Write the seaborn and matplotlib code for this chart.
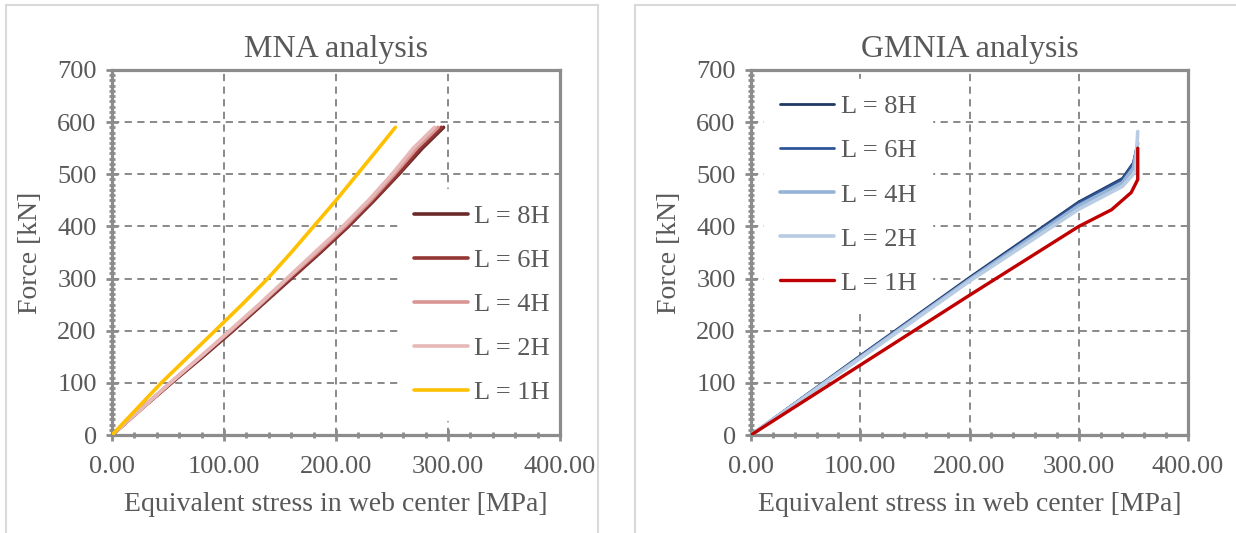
import numpy as np
import pandas as pd
import seaborn as sns
import matplotlib.pyplot as plt
from matplotlib.patches import Rectangle
from matplotlib.ticker import MultipleLocator, FuncFormatter

# Données (contrainte équivalente [MPa], force [kN])
labels = ['L = 8H', 'L = 6H', 'L = 4H', 'L = 2H', 'L = 1H']

mna_force = [0, 50, 100, 150, 200, 250, 300, 350, 400, 450, 500, 550, 590]
mna_x = {
    'L = 8H': [0, 26, 53, 81, 108, 134, 160, 186, 211, 234, 256, 277, 296],
    'L = 6H': [0, 26, 53, 80, 107, 133, 159, 185, 210, 233, 255, 275, 294],
    'L = 4H': [0, 26, 52, 79, 106, 132, 157, 183, 208, 231, 252, 272, 291],
    'L = 2H': [0, 26, 52, 79, 105, 131, 156, 181, 206, 229, 250, 269, 288],
    'L = 1H': [0, 22, 44, 68, 92, 116, 139, 160, 180, 200, 219, 238, 253],
}
mna_y = {lab: mna_force for lab in labels}

gmnia_x = {
    'L = 8H': [0, 100, 200, 300, 340, 350, 353],
    'L = 6H': [0, 100, 200, 300, 340, 350, 353],
    'L = 4H': [0, 100, 200, 300, 340, 350, 354],
    'L = 2H': [0, 100, 200, 300, 340, 352, 354],
    'L = 1H': [0, 100, 200, 300, 330, 348, 354, 354],
}
gmnia_y = {
    'L = 8H': [0, 152, 302, 447, 492, 522, 550],
    'L = 6H': [0, 151, 300, 445, 490, 520, 548],
    'L = 4H': [0, 149, 298, 440, 484, 512, 560],
    'L = 2H': [0, 147, 295, 433, 477, 505, 582],
    'L = 1H': [0, 134, 268, 400, 432, 465, 490, 550],
}

couleurs_mna = {'L = 8H': '#6B2A2A', 'L = 6H': '#943634', 'L = 4H': '#D99594',
                'L = 2H': '#E6B9B8', 'L = 1H': '#FFC000'}
couleurs_gmnia = {'L = 8H': '#1F3864', 'L = 6H': '#2F5597', 'L = 4H': '#95B3D7',
                  'L = 2H': '#B8CCE4', 'L = 1H': '#C00000'}
largeurs_gmnia = {'L = 8H': 2.0, 'L = 6H': 2.0, 'L = 4H': 2.6, 'L = 2H': 2.6, 'L = 1H': 2.4}


def to_df(xs, ys):
    lignes = []
    for lab in labels:
        for i, (x, y) in enumerate(zip(xs[lab], ys[lab])):
            lignes.append({'serie': lab, 'ordre': i, 'stress': x, 'force': y})
    return pd.DataFrame(lignes)


sns.set_style('white')
plt.rcParams['font.family'] = ['Liberation Serif', 'DejaVu Serif']
gris_txt = '#595959'
gris_axe = '#8C8C8C'

fig = plt.figure(figsize=(12.36, 5.33), dpi=100)

# cadres des deux graphiques
fig.patches.append(Rectangle((6 / 1236, -0.1), (598 - 6) / 1236, 1.1 - 5 / 533,
                             transform=fig.transFigure, fill=False, ec='#D9D9D9', lw=1.5))
fig.patches.append(Rectangle((635 / 1236, -0.1), 0.6, 1.1 - 5 / 533,
                             transform=fig.transFigure, fill=False, ec='#D9D9D9', lw=1.5))

ax1 = fig.add_axes([112 / 1236, 1 - 435 / 533, 448 / 1236, 365 / 533])
ax2 = fig.add_axes([751 / 1236, 1 - 435 / 533, 437 / 1236, 365 / 533])

panneaux = [
    (ax1, to_df(mna_x, mna_y), couleurs_mna, {k: 2.6 for k in labels}, 'MNA analysis',
     (0.638, 0.675)),
    (ax2, to_df(gmnia_x, gmnia_y), couleurs_gmnia, largeurs_gmnia, 'GMNIA analysis',
     (0.03, 0.975)),
]

for ax, df, pal, lw, titre, pos_leg in panneaux:
    for lab in labels:
        sns.lineplot(data=df[df['serie'] == lab], x='stress', y='force', sort=False,
                     estimator=None, color=pal[lab], lw=lw[lab], label=lab, ax=ax,
                     solid_capstyle='round', solid_joinstyle='round', zorder=3)
    ax.set_xlim(0, 400)
    ax.set_ylim(0, 700)
    ax.xaxis.set_major_locator(MultipleLocator(100))
    ax.xaxis.set_minor_locator(MultipleLocator(20))
    ax.yaxis.set_major_locator(MultipleLocator(100))
    ax.yaxis.set_minor_locator(MultipleLocator(10))
    ax.xaxis.set_major_formatter(FuncFormatter(lambda v, p: f'{v:.2f}'))
    ax.grid(True, which='major', color='#808080', ls=(0, (4, 3)), lw=1.3, zorder=0)
    for s in ax.spines.values():
        s.set_color(gris_axe)
        s.set_linewidth(2.3)
    ax.tick_params(which='major', direction='inout', length=8, width=2, color=gris_axe,
                   labelsize=19, labelcolor=gris_txt)
    ax.tick_params(axis='x', which='major', pad=11)
    ax.tick_params(axis='y', which='major', pad=7)
    ax.tick_params(which='minor', direction='inout', length=5, width=2, color=gris_axe)
    ax.tick_params(axis='x', which='both', top=False, bottom=True)
    ax.tick_params(axis='y', which='both', right=False, left=True)
    ax.set_title(titre, fontsize=23, color=gris_txt, pad=9)
    ax.set_xlabel('Equivalent stress in web center [MPa]', fontsize=20, color=gris_txt, labelpad=10)
    ax.set_ylabel('Force [kN]', fontsize=20, color=gris_txt, labelpad=10)
    leg = ax.legend(loc='upper left', bbox_to_anchor=pos_leg, fontsize=19, frameon=True,
                    facecolor='white', edgecolor='white', framealpha=1, fancybox=False,
                    handlelength=2.05, handletextpad=0.25, labelspacing=0.78, borderpad=0.6,
                    borderaxespad=0)
    leg.set_zorder(2)
    for t in leg.get_texts():
        t.set_color(gris_txt)

fig.savefig('out.png', dpi=100)
